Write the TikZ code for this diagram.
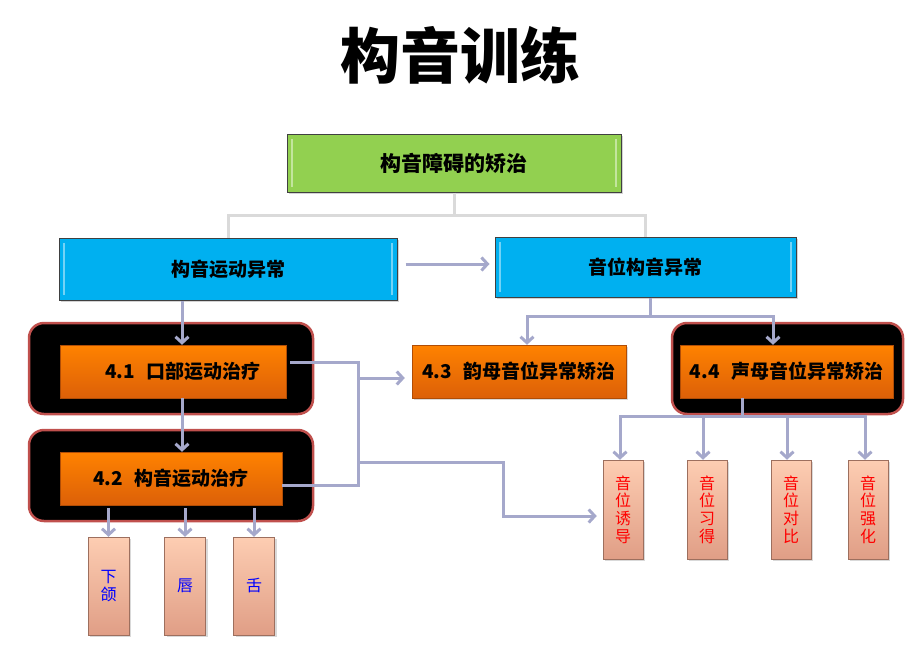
\documentclass[tikz,border=0pt]{standalone}
\usepackage{fontspec}
\setmainfont{Noto Sans CJK SC}
\usetikzlibrary{arrows.meta,positioning,shadows}
\definecolor{greenfill}{HTML}{92D050}
\definecolor{bluefill}{HTML}{00B0F0}
\definecolor{orangetop}{HTML}{FF8200}
\definecolor{orangebot}{HTML}{DC6008}
\definecolor{peachtop}{HTML}{FDCDB2}
\definecolor{peachbot}{HTML}{E09E86}
\definecolor{flowgray}{HTML}{A5A8CB}
\definecolor{treegray}{HTML}{DADADA}
\definecolor{frame}{HTML}{C0504D}
\tikzset{
  glossy/.style={path picture={
    \draw[white,opacity=.45,line width=1.2pt]
      ([xshift=5pt,yshift=-5pt]path picture bounding box.north west) --
      ([xshift=5pt,yshift=5pt]path picture bounding box.south west);
    \draw[white,opacity=.45,line width=1.2pt]
      ([xshift=-5pt,yshift=-5pt]path picture bounding box.north east) --
      ([xshift=-5pt,yshift=5pt]path picture bounding box.south east);}},
  headbox/.style={draw=black!75, line width=1pt, glossy,
    drop shadow={shadow xshift=2pt,shadow yshift=-2pt,opacity=.35},
    font=\fontsize{19}{22}\selectfont\bfseries},
  stagebox/.style={rounded corners=15pt, fill=black, draw=frame, line width=2.5pt},
  treatbox/.style={top color=orangetop, bottom color=orangebot, draw=orangebot!80!black, line width=.4pt,
    font=\fontsize{19}{22}\selectfont\bfseries},
  subbox/.style={top color=peachtop, bottom color=peachbot, draw=peachbot!70!black, line width=.5pt,
    drop shadow={shadow xshift=2pt,shadow yshift=-2pt,opacity=.3},
    align=center, inner sep=0pt, font=\fontsize{16}{17.7}\selectfont},
  flow/.style={draw=flowgray, line width=3pt, -{Straight Barb[length=6pt,width=13pt]}},
  link/.style={draw=flowgray, line width=3pt},
  tree/.style={draw=treegray, line width=3pt}
}
\begin{document}
\begin{tikzpicture}[x=1pt,y=-1pt]
\useasboundingbox (0,0) rectangle (921,659);

% title
\node (title) at (460,55) {\fontsize{60}{62}\selectfont\bfseries 构音训练};

% top level
\node[headbox, fill=greenfill, minimum width=334pt, minimum height=58pt,
  font=\fontsize{21}{24}\selectfont\bfseries] (root) at (454,163) {构音障碍的矫治};
\node[headbox, fill=bluefill, minimum width=338pt, minimum height=62pt] (motor) at (228,269) {构音运动异常};
\node[headbox, fill=bluefill, minimum width=301pt, minimum height=60pt] (phon) at (645.5,267) {音位构音异常};

\coordinate (fork) at (454,215);
\draw[tree] (root.south) -- (fork) -| (motor.north);
\draw[tree] (fork) -| (phon.north);

% stages
\node[stagebox, minimum width=284pt, minimum height=91pt] (stageA) at (171,368.5) {};
\node[stagebox, minimum width=284pt, minimum height=91pt] (stageB) at (171,475.5) {};
\node[stagebox, minimum width=231pt, minimum height=91pt] (stageC) at (787.5,368.5) {};

\node[treatbox, minimum width=226pt, minimum height=53pt] (oral) at (173,371.5) {\hspace{20pt}4.1\hspace{.6em}口部运动治疗};
\node[treatbox, minimum width=222pt, minimum height=53pt] (artic) at (171,478.5) {4.2\hspace{.6em}构音运动治疗};
\node[treatbox, minimum width=214pt, minimum height=53pt,
  drop shadow={shadow xshift=2pt,shadow yshift=-2pt,opacity=.3}] (vowel) at (519,371.5) {4.3\hspace{.6em}韵母音位异常矫治};
\node[treatbox, minimum width=213pt, minimum height=53pt] (cons) at (786.5,371.5) {4.4\hspace{.6em}声母音位异常矫治};

% sub boxes
\node[subbox, text=blue, minimum width=41pt, minimum height=98pt] (jaw) at (108.5,586) {下\\颌};
\node[subbox, text=blue, minimum width=41pt, minimum height=98pt] (lip) at (185,586) {唇};
\node[subbox, text=blue, minimum width=41pt, minimum height=98pt] (tongue) at (254,586) {舌};

\node[subbox, text=red, minimum width=40pt, minimum height=99pt] (induce) at (623,509.5) {音\\位\\诱\\导};
\node[subbox, text=red, minimum width=40pt, minimum height=99pt] (acquire) at (707,509.5) {音\\位\\习\\得};
\node[subbox, text=red, minimum width=40pt, minimum height=99pt] (contrast) at (791,509.5) {音\\位\\对\\比};
\node[subbox, text=red, minimum width=40pt, minimum height=99pt] (reinforce) at (868,509.5) {音\\位\\强\\化};

% connectors
\draw[flow] ([xshift=8pt,yshift=5pt]motor.east) -- ([xshift=-5pt,yshift=3pt]phon.west);
\draw[flow] ([xshift=-46pt]motor.south) -- ([xshift=9pt]oral.north);
\draw[flow] ([xshift=9pt]oral.south) -- ([xshift=11pt]artic.north);

\coordinate (busT) at (358,362);
\coordinate (busB) at (358,485);
\coordinate (j43) at (358,378);
\coordinate (j1) at (358,462);
\coordinate (j2) at (503,462);
\draw[link] ([xshift=4pt,yshift=9.5pt]oral.east) -- (busT) -- (busB) -- ([yshift=-6.5pt]artic.east);
\draw[flow] (j43) -- ([xshift=-7pt]j43 -| vowel.west);
\draw[flow] (j1) -- (j2) |- ([xshift=-6pt,yshift=-6.5pt]induce.west);

\coordinate (fr) at (650,316);
\coordinate (f43) at (527,316);
\coordinate (f44) at (773,316);
\draw[link] ([xshift=4.5pt]phon.south) -- (fr);
\draw[flow] (fr) -- (f43) -- (f43 |- vowel.north);
\draw[flow] (fr) -- (f44) -- (f44 |- cons.north);

\coordinate (f4) at (742,416);
\draw[link] (cons.south -| f4) -- (f4);
\draw[flow] (f4) -| ([xshift=-3pt]induce.north);
\draw[flow] (f4) -| ([xshift=-4pt]acquire.north);
\draw[flow] (f4) -| ([xshift=-4pt]contrast.north);
\draw[flow] (f4) -| ([xshift=-3pt]reinforce.north);

\draw[flow] ([yshift=-3pt]artic.south -| jaw.north) -- (jaw.north);
\draw[flow] ([yshift=-3pt]artic.south -| lip.north) -- (lip.north);
\draw[flow] ([yshift=-3pt]artic.south -| tongue.north) -- (tongue.north);
\end{tikzpicture}
\end{document}
